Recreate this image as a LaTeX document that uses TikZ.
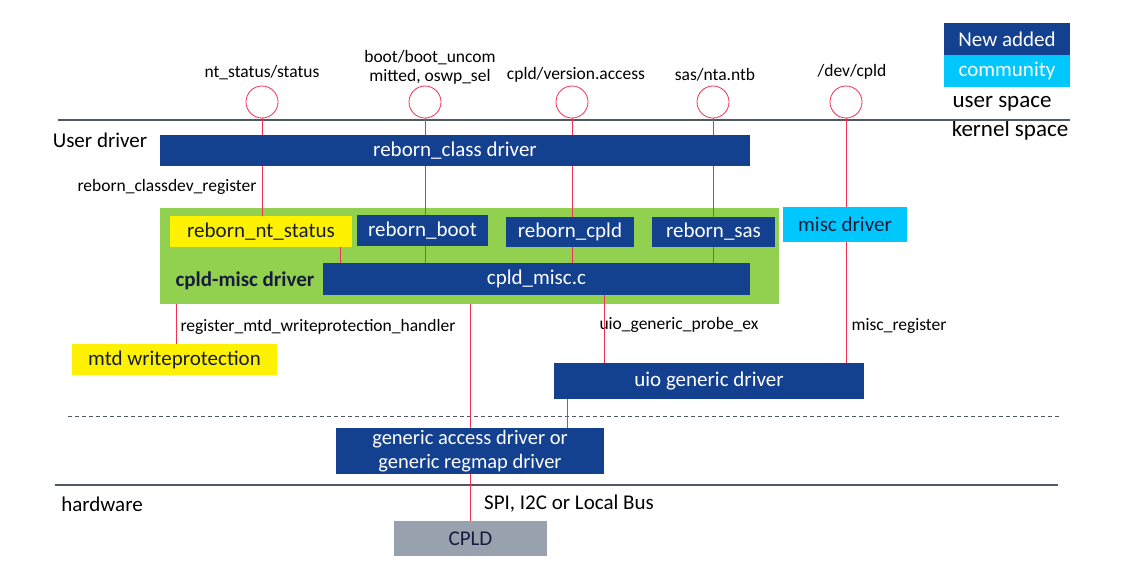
\documentclass[tikz,border=0pt]{standalone}
\usepackage{fontspec}
\setmainfont{Carlito}
\definecolor{newblue}{RGB}{19,64,143}
\definecolor{commcyan}{RGB}{0,200,255}
\definecolor{grpgreen}{RGB}{146,208,80}
\definecolor{hwgray}{RGB}{151,162,174}
\definecolor{wirered}{RGB}{240,50,80}
\definecolor{sepgray}{RGB}{80,88,100}
\definecolor{darktext}{RGB}{24,28,60}

\begin{document}
\begin{tikzpicture}
        [x=1pt,y=-1pt,every node/.style={inner sep=0,font=\fontsize{21}{24}\selectfont},
        newbox/.style={fill=newblue,text=white},
        commbox/.style={fill=commcyan,text=darktext},
        yelbox/.style={fill=yellow,text=darktext},
        small/.style={font=\fontsize{17.5}{19}\selectfont},
        ifc/.style={draw=wirered,circle,minimum size=32pt,line width=0.8pt},
        wire/.style={draw=wirered,line width=0.8pt},
        sep/.style={draw=sepgray,line width=2.2pt}]

        \useasboundingbox (0,0) rectangle (1124,567);

        % legend
        \node[newbox,minimum width=126pt,minimum height=32pt] (newlg) at (1007,39) {New added};
        \node[commbox,text=white,minimum width=126pt,minimum height=32pt] (commlg) at (1007,71) {community};

        % user space
        \node[font=\fontsize{23}{26}\selectfont] (usp) at (1002,104) {user space};
        \node[font=\fontsize{23}{26}\selectfont] (ksp) at (1010,130) {kernel space};
        \node (udrv) at (100,140) {User driver};
        \node (hwlbl) at (102,504) {hardware};

        \node[ifc] (c1) at (262,102) {};
        \node[ifc] (c2) at (425,102) {};
        \node[ifc] (c3) at (572,102) {};
        \node[ifc] (c4) at (713,102) {};
        \node[ifc] (c5) at (846,102) {};

        \node[small] (l1) at (262,73) {nt\_status/status};
        \node[small,align=center] (l2) at (430,67) {boot/boot\_uncom\\mitted, oswp\_sel};
        \node[small] (l3) at (576,75) {cpld/version.access};
        \node[small] (l4) at (715,75) {sas/nta.ntb};
        \node[small] (l5) at (852,72) {/dev/cpld};

        \coordinate (top l) at (58,120);
        \coordinate (top r) at (1070,120);
        \draw[sep] (top l) -- (top r);

        % kernel drivers
        \node[newbox,minimum width=590pt,minimum height=31pt] (cls) at (455,150.5) {reborn\_class driver};
        \node[small] (regl) at (167,187) {reborn\_classdev\_register};

        \node[fill=grpgreen,minimum width=619pt,minimum height=96pt] (grp) at (469.5,256) {};
        \node[yelbox,minimum width=182pt,minimum height=31pt] (nts) at (261,231.5) {reborn\_nt\_status};
        \node[newbox,minimum width=131pt,minimum height=31pt] (boot) at (422.5,230.5) {reborn\_boot};
        \node[newbox,minimum width=128pt,minimum height=30pt] (cpld) at (570,232) {reborn\_cpld};
        \node[newbox,minimum width=123pt,minimum height=30pt] (sas) at (713.5,232) {reborn\_sas};
        \node[font=\fontsize{21}{24}\bfseries,text=darktext] (grpl) at (245,281) {cpld-misc driver};
        \node[newbox,minimum width=427pt,minimum height=32pt] (mc) at (536.5,279) {cpld\_misc.c};

        \node[commbox,minimum width=124pt,minimum height=35pt] (misc) at (845,224.5) {misc driver};

        \node[yelbox,minimum width=205pt,minimum height=31pt] (mtd) at (174.5,359.5) {mtd writeprotection};
        \node[small] (mtdl) at (318,327) {register\_mtd\_writeprotection\_handler};
        \node[small] (uiol) at (679,325) {uio\_generic\_probe\_ex};
        \node[small] (miscl) at (899,326) {misc\_register};

        \node[newbox,minimum width=310pt,minimum height=36pt] (uio) at (709,381) {uio generic driver};

        \coordinate (dash l) at (68,416);
        \coordinate (dash r) at (1060,416);
        \draw[draw=sepgray,line width=0.8pt,dash pattern=on 4pt off 3pt] (dash l) -- (dash r);

        \node[newbox,minimum width=268pt,minimum height=46pt,align=center,font=\fontsize{20.5}{24}\selectfont] (gad) at (470,451) {generic access driver or\\generic regmap driver};

        \coordinate (bot l) at (55,485);
        \coordinate (bot r) at (1058,485);
        \draw[sep] (bot l) -- (bot r);

        \node (busl) at (569,504) {SPI, I2C or Local Bus};
        \node[fill=hwgray,text=darktext,minimum width=153pt,minimum height=35pt] (hw) at (470.5,538.5) {CPLD};

        % wires
        \draw[wire] (c1.south) -- (c1.south |- cls.north);
        \draw[wire] (c1 |- cls.south) -- (c1 |- nts.north);
        \draw[wire] (c2.south) -- (c2.south |- cls.north);
        \draw[wire] (c2 |- cls.south) -- (c2 |- boot.north);
        \draw[wire] (c2 |- boot.south) -- (c2 |- mc.north);
        \draw[wire] (c3.south) -- (c3.south |- cls.north);
        \draw[wire] (c3 |- cls.south) -- (c3 |- cpld.north);
        \draw[wire] (c3 |- cpld.south) -- (c3 |- mc.north);
        \draw[wire] (c4.south) -- (c4.south |- cls.north);
        \draw[wire] (c4 |- cls.south) -- (c4 |- sas.north);
        \draw[wire] (c4 |- sas.south) -- (c4 |- mc.north);
        \draw[wire] (c5.south) -- (c5.south |- misc.north);
        \draw[wire] (c5 |- misc.south) -- (c5 |- uio.north);
        \draw[wire] ([xshift=79pt]nts.south) -- ([xshift=79pt]nts.south |- mc.north);
        \draw[wire] ([xshift=1.5pt]mtd.north |- grp.south) -- ([xshift=1.5pt]mtd.north);
        \draw[wire] (gad.north |- grp.south) -- (gad.north);
        \draw[wire] ([xshift=67.5pt]mc.south) -- ([xshift=67.5pt]mc.south |- uio.north);
        \draw[wire] ([xshift=-142pt]uio.south) -- ([xshift=-142pt]uio.south |- gad.north);
        \draw[wire] (gad.south) -- (gad.south |- hw.north);
      \end{tikzpicture}
\end{document}
